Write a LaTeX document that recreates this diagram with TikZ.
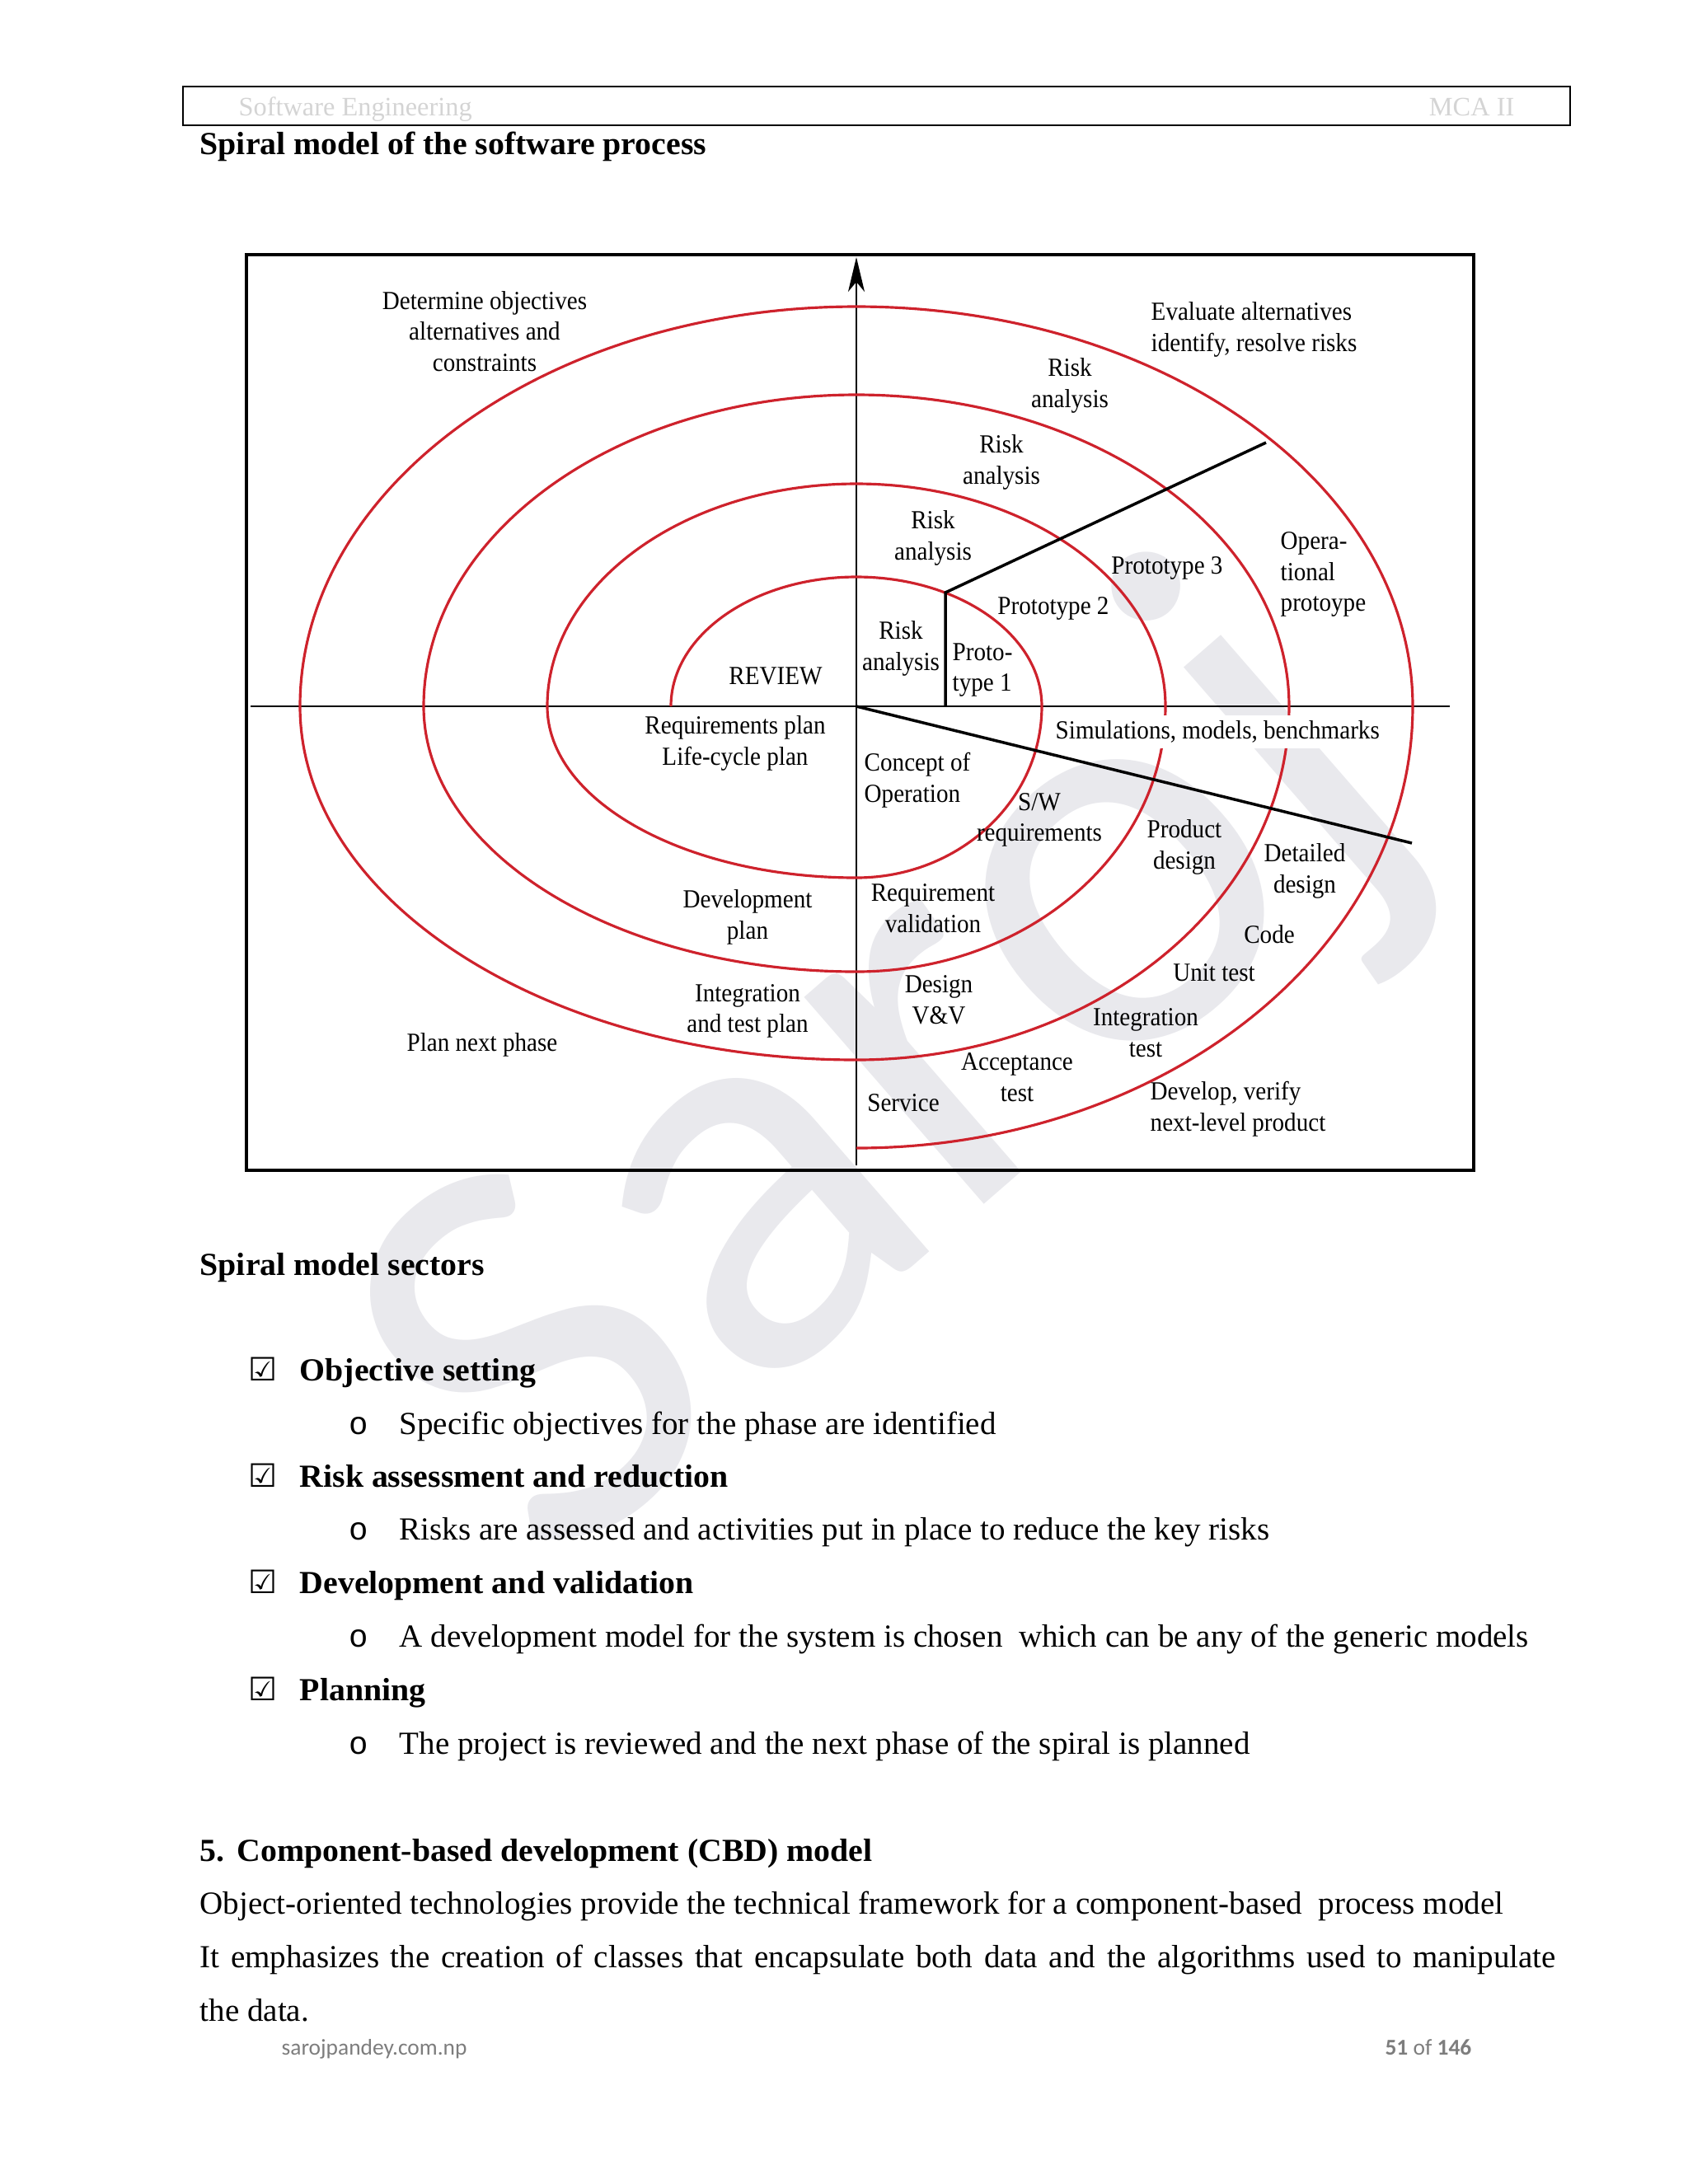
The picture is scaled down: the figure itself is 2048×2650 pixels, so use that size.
\documentclass[tikz,border=0pt]{standalone}
\usepackage{fontspec}
\setmainfont{Liberation Serif}[BoldFeatures={FakeStretch=1.02}]
\newfontfamily\figfont[FakeStretch=0.92]{Liberation Serif}
\newfontfamily\footfont{Carlito}
\newfontfamily\boxfont{DejaVu Sans}
\newfontfamily\ringfont{Liberation Mono}
\usetikzlibrary{arrows.meta, positioning}
\definecolor{spiralRed}{RGB}{206,34,44}
\definecolor{markGray}{RGB}{233,233,237}
\definecolor{headGray}{RGB}{212,212,212}
\definecolor{footGray}{RGB}{125,125,125}
\newcommand\figsize{\fontsize{9}{10.7}\selectfont}
\newcommand\bodysize{\fontsize{11.1}{13}\selectfont}

\begin{document}
\begin{tikzpicture}[x=0.01cm, y=0.01cm,
    spiral/.style={spiralRed, line width=0.9pt},
    axis/.style={black, line width=0.6pt},
    split/.style={black, line width=1pt},
    lbl/.style={font=\figfont\figsize, align=center, inner sep=0pt},
    lbll/.style={lbl, align=left, anchor=west},
    body/.style={font=\bodysize, anchor=base west, inner sep=0pt},
    tick/.style={font=\boxfont\bfseries\bodysize, anchor=base west, inner sep=0pt},
    ring/.style={font=\ringfont\bodysize, anchor=base west, inner sep=0pt}]
    \useasboundingbox (0,0) rectangle (2048,-2650);
    \node[font=\footfont\fontsize{198}{198}\selectfont, text=markGray, rotate=41] (mark) at (1085,-1318) {Saroj};

    % page header
    \draw[line width=0.6pt] (222,-105) rectangle (1905,-152);
    \node[body, font=\fontsize{9.2}{11}\selectfont, text=headGray] (course) at (289,-140) {Software Engineering};
    \node[body, font=\fontsize{9.2}{11}\selectfont, text=headGray, anchor=base east] (year) at (1838,-140) {MCA II};
    \node[body] (title) at (242,-187) {\textbf{Spiral model of the software process}};

    % spiral figure
    \draw[line width=0.9pt] (299,-309) rectangle (1788,-1420);
    \coordinate (O) at (1039,-857);
    \coordinate (axl) at (304,-857);
    \coordinate (axr) at (1759,-857);
    \coordinate (axb) at (1039,-1414);
    \coordinate (axt) at (1039,-312);
    \coordinate (p1) at (1147,-719);
    \coordinate (p0) at (1147,-857);
    \coordinate (p2) at (1536,-537);
    \coordinate (p3) at (1713,-1023);
    \draw[axis] (axl) -- (axr);
    \draw[axis, -{Stealth[length=0.42cm, width=0.2cm, inset=0.12cm]}] (axb) -- (axt);
    \draw[spiral] (814,-857)
      arc[start angle=180, end angle=0, x radius=225, y radius=157]
      arc[start angle=0, end angle=-90, x radius=225, y radius=208]
      arc[start angle=270, end angle=180, x radius=375, y radius=208]
      arc[start angle=180, end angle=0, x radius=375, y radius=270]
      arc[start angle=0, end angle=-90, x radius=375, y radius=322]
      arc[start angle=270, end angle=180, x radius=525, y radius=322]
      arc[start angle=180, end angle=0, x radius=525, y radius=378]
      arc[start angle=0, end angle=-90, x radius=525, y radius=429]
      arc[start angle=270, end angle=180, x radius=675, y radius=429]
      arc[start angle=180, end angle=0, x radius=675, y radius=485]
      arc[start angle=0, end angle=-90, x radius=675, y radius=536];
    \draw[split] (p0) -- (p1) -- (p2);
    \draw[split] (O) -- (p3);

    \node[lbl] (objectives) at (588,-402) {Determine objectives\\alternatives and\\constraints};
    \node[lbll] (evaluate) at (1396,-400) {Evaluate alternatives\\identify, resolve risks};
    \node[lbl] (risk4) at (1298,-468) {Risk\\analysis};
    \node[lbl] (risk3) at (1215,-561) {Risk\\analysis};
    \node[lbl] (risk2) at (1132,-653) {Risk\\analysis};
    \node[lbl] (risk1) at (1093,-787) {Risk\\analysis};
    \node[lbl] (proto3) at (1416,-689) {Prototype 3};
    \node[lbl] (proto2) at (1278,-738) {Prototype 2};
    \node[lbll] (operational) at (1553,-697) {Opera-\\tional\\protoype};
    \node[lbll] (proto1) at (1155,-813) {Proto-\\type 1};
    \node[lbl] (review) at (941,-820) {REVIEW};
    \node[lbl] (reqplan) at (892,-902) {Requirements plan\\Life-cycle plan};
    \node[lbll] (concept) at (1048,-947) {Concept of\\Operation};
    \node[lbll, fill=white, inner sep=2pt] (simulations) at (1273,-888) {Simulations, models, benchmarks};
    \node[lbl] (swreq) at (1261,-995) {S/W\\requirements};
    \node[lbl] (proddesign) at (1437,-1028) {Product\\design};
    \node[lbl] (detdesign) at (1583,-1057) {Detailed\\design};
    \node[lbl] (code) at (1540,-1134) {Code};
    \node[lbl] (unittest) at (1473,-1180) {Unit test};
    \node[lbl] (devplan) at (907,-1113) {Development\\plan};
    \node[lbl] (reqvalid) at (1132,-1102) {Requirement\\validation};
    \node[lbl] (designvv) at (1139,-1213) {Design\\V\&V};
    \node[lbl] (intplan) at (907,-1227) {Integration\\and test plan};
    \node[lbl] (nextphase) at (585,-1268) {Plan next phase};
    \node[lbl] (inttest) at (1390,-1253) {Integration\\test};
    \node[lbl] (acctest) at (1234,-1307) {Acceptance\\test};
    \node[lbl] (service) at (1096,-1338) {Service};
    \node[lbll] (develop) at (1395,-1346) {Develop, verify\\next-level product};

    % sectors list
    \node[body] (sectors) at (242,-1547) {\textbf{Spiral model sectors}};
    \node[tick] (t1) at (301,-1675) {☑};
    \node[body] (s1) at (363,-1675) {\textbf{Objective setting}};
    \node[ring] (r1) at (423,-1740) {o};
    \node[body] (d1) at (484,-1740) {Specific objectives for the phase are identified};
    \node[tick] (t2) at (301,-1804) {☑};
    \node[body] (s2) at (363,-1804) {\textbf{Risk assessment and reduction}};
    \node[ring] (r2) at (423,-1868) {o};
    \node[body] (d2) at (484,-1868) {Risks are assessed and activities put in place to reduce the key risks};
    \node[tick] (t3) at (301,-1933) {☑};
    \node[body] (s3) at (363,-1933) {\textbf{Development and validation}};
    \node[ring] (r3) at (423,-1998) {o};
    \node[body] (d3) at (484,-1998) {A development model for the system is chosen\ \ which can be any of the generic models};
    \node[tick] (t4) at (301,-2063) {☑};
    \node[body] (s4) at (363,-2063) {\textbf{Planning}};
    \node[ring] (r4) at (423,-2128) {o};
    \node[body] (d4) at (484,-2128) {The project is reviewed and the next phase of the spiral is planned};

    % next section
    \node[body] (cbdnum) at (242,-2258) {\textbf{5.}};
    \node[body] (cbd) at (287,-2258) {\textbf{Component-based development (CBD) model}};
    \node[body] (line1) at (242,-2322) {Object-oriented technologies provide the technical framework for a component-based\ \ process model};
    \node[body] (line2) at (242,-2387) {\makebox[16.44cm][s]{It emphasizes the creation of classes that encapsulate both data and the algorithms used to manipulate}};
    \node[body] (line3) at (242,-2452) {the data.};

    % footer
    \node[body, font=\footfont\fontsize{7.8}{10}\selectfont, text=footGray] (site) at (341,-2493) {sarojpandey.com.np};
    \node[body, font=\footfont\fontsize{7.8}{10}\selectfont, text=footGray, anchor=base east] (pageno) at (1786,-2493) {\textbf{51} of \textbf{146}};
\end{tikzpicture}
\end{document}
